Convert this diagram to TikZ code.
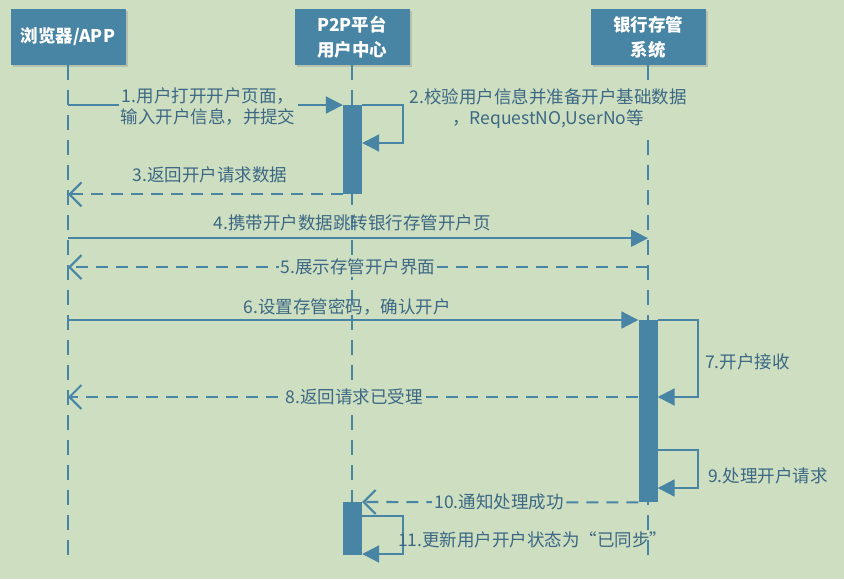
\documentclass[tikz,border=0pt]{standalone}
\usepackage{fontspec}
\setmainfont{Noto Sans CJK SC}
\usetikzlibrary{positioning,arrows.meta,calc,shadows}
\definecolor{SketchGreen}{RGB}{205,222,193}
\definecolor{LaneBlue}{RGB}{72,132,163}
\definecolor{LabelBlue}{RGB}{60,104,132}

\begin{document}
\begin{tikzpicture}[x=1pt, y=-1pt, font=\fontsize{17.5}{21}\selectfont,
    every node/.style={align=center},
    actor/.style={fill=LaneBlue, text=white, font=\fontsize{17.5}{25}\selectfont\bfseries,
      minimum width=115pt, minimum height=56pt,
      drop shadow={opacity=0.3, shadow xshift=2pt, shadow yshift=-2pt}},
    bar/.style={fill=LaneBlue, minimum width=19pt, inner sep=0pt, anchor=north},
    lifeline/.style={LaneBlue, line width=2.1pt, dash pattern=on 15pt off 10pt},
    msg/.style={LaneBlue, line width=2.1pt, -{Triangle[length=17pt,width=17pt]}},
    reply/.style={LaneBlue, line width=2.1pt, dash pattern=on 12pt off 8pt,
      -{Straight Barb[length=12pt,width=24pt]}},
    lbl/.style={text=LabelBlue, inner sep=2pt},
    bglbl/.style={lbl, fill=SketchGreen}]
  \fill[SketchGreen] (0,0) rectangle (844,579);
  \useasboundingbox (0,0) rectangle (844,579);

  % participants
  \node[actor] (browser) at (68,37) {浏览器/APP};
  \node[actor] (platform) at (352,37) {P2P平台\\用户中心};
  \node[actor] (bank) at (648,37) {银行存管\\系统};
  \coordinate (browserend) at (68,563);
  \coordinate (platformend) at (352,563);
  \coordinate (bankend) at (648,563);
  \draw[lifeline] (browser.south) -- (browserend);
  \draw[lifeline] (platform.south) -- (platformend);
  \draw[lifeline] (bank.south) -- (bankend);

  % activations
  \node[bar, minimum height=89pt] (checkbar) at (352.5,105) {};
  \node[bar, minimum height=182pt] (bankbar) at (648,320) {};
  \node[bar, minimum height=53pt] (syncbar) at (352.5,502) {};
  \coordinate (acceptpt) at ($(bankbar.north west)+(0,77)$);

  % messages
  \draw[msg] (browser.south |- checkbar.north west) -- (checkbar.north west);
  \draw[msg] (checkbar.north east) -- ++(41,0) -- ++(0,38) -- ++(-41,0);
  \draw[reply] (checkbar.south west) -- (checkbar.south west -| browser.south);
  \draw[msg] ($(browser.south)+(0,173)$) -- ($(bank.south)+(0,173)$);
  \draw[reply] ($(bank.south)+(0,202)$) -- ($(browser.south)+(0,202)$);
  \draw[msg] (browser.south |- bankbar.north west) -- (bankbar.north west);
  \draw[msg] (bankbar.north east) -- ++(40,0) -- ++(0,77) -- ++(-40,0);
  \draw[reply] (acceptpt) -- (acceptpt -| browser.south);
  \draw[msg] ($(bankbar.north east)+(0,130)$) -- ++(40,0) -- ++(0,38) -- ++(-40,0);
  \draw[reply] (bankbar.south west) -- (syncbar.north east);
  \draw[msg] ($(syncbar.north east)+(0,14)$) -- ++(41,0) -- ++(0,38) -- ++(-41,0);

  % labels
  \node[bglbl] (l1) at (208,107) {1.用户打开开户页面，\\输入开户信息，并提交};
  \node[bglbl] (l2) at (548,109) {2.校验用户信息并准备开户基础数据\\，RequestNO,UserNo等};
  \node[lbl] (l3) at (210,175) {3.返回开户请求数据};
  \node[lbl] (l4) at (352,223) {4.携带开户数据跳转银行存管开户页};
  \node[bglbl] (l5) at (358,267) {5.展示存管开户界面};
  \node[lbl] (l6) at (347,307) {6.设置存管密码，确认开户};
  \node[lbl, anchor=west] (l7) at (703,362) {7.开户接收};
  \node[bglbl] (l8) at (354,397) {8.返回请求已受理};
  \node[lbl, anchor=west] (l9) at (706,476) {9.处理开户请求};
  \node[bglbl] (l10) at (499,502) {10.通知处理成功};
  \node[lbl, anchor=west] (l11) at (396,540) {11.更新用户开户状态为“已同步”};
\end{tikzpicture}
\end{document}
